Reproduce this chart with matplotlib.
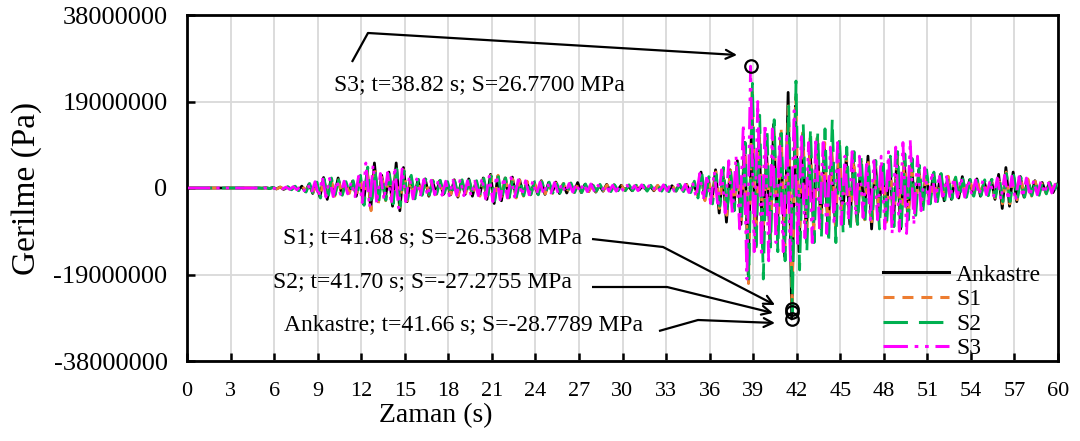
import matplotlib
matplotlib.use('Agg')
import matplotlib.pyplot as plt
import numpy as np

plt.rcParams['font.family'] = ['Liberation Serif', 'DejaVu Serif']

# ---------------- data (stress in MPa, sampled every dt seconds) ----------------
dt = 0.25
series_names = ['Ankastre', 'S1', 'S2', 'S3']
start_times = [0.16, 0.18, 0.20, 0.07]

ankastre_mpa = [
    0, 0, 0, 0, 0, 0, 0, 0, 0, 0,
    0, 0, 0, 0, 0, 0, 0, 0, 0, 0,
    -0.05, 0.05, -0.1, 0.1, -0.2, 0.2, -0.3, 0.2, -0.3, 0.3,
    -0.5, 0.4, -0.8, 0.9, -1.2, 1.0, -2.0, 2.3, -2.5, 1.8,
    -1.6, 2.2, -1.4, 1.2, -1.0, 1.5, -1.8, 2.5, -3.5, 4.0,
    -4.5, 5.5, -3.0, 2.8, -2.5, 3.5, -4.0, 5.5, -5.0, 4.5,
    -3.0, 2.5, -2.0, 1.8, -1.5, 2.0, -1.8, 1.5, -1.2, 1.6,
    -1.4, 1.2, -1.5, 1.8, -2.0, 1.6, -1.4, 2.0, -1.8, 1.5,
    -1.6, 2.2, -2.5, 3.0, -3.4, 2.6, -2.8, 2.2, -2.0, 2.4,
    -2.0, 1.8, -1.6, 1.4, -1.5, 1.2, -1.3, 1.6, -1.4, 1.2,
    -1.0, 1.3, -1.2, 0.9, -1.1, 1.0, -0.9, 1.2, -1.0, 0.8,
    -0.8, 0.7, -0.9, 0.6, -0.7, 0.8, -0.6, 0.7, -0.5, 0.6,
    -0.5, 0.4, -0.6, 0.5, -0.4, 0.6, -0.5, 0.4, -0.6, 0.5,
    -0.5, 0.6, -0.7, 0.5, -0.6, 0.7, -0.5, 0.8, -0.9, 1.0,
    -1.5, 3.5, -2.5, 2.0, -3.0, 4.0, -5.5, 3.5, -7.5, 4.0,
    -5.0, 6.0, -8.0, 10.0, -19.0, 17.0, -12.0, 11.0, -13.0, 9.0,
    -12.0, 14.0, -10.0, 12.0, -15.0, 21.0, -28.7789, 18.0, -14.0, 12.0,
    -11.0, 10.0, -9.0, 11.0, -8.0, 9.0, -10.0, 7.0, -8.0, 9.0,
    -7.0, 6.5, -8.0, 6.0, -7.5, 5.5, -6.0, 7.0, -9.0, 6.0,
    -6.0, 5.0, -7.0, 6.0, -8.0, 7.0, -9.0, 6.0, -7.0, 5.0,
    -5.0, 4.0, -4.5, 3.5, -3.0, 3.0, -2.5, 3.0, -2.8, 2.5,
    -2.5, 2.0, -2.2, 2.5, -2.0, 1.8, -1.6, 2.0, -1.8, 1.5,
    -1.5, 1.8, -2.5, 3.0, -4.5, 4.5, -4.0, 3.5, -3.0, 2.5,
    -2.0, 1.8, -1.5, 1.6, -1.4, 1.2, -1.0, 1.2, -1.0, 0.8,
]

s1_mpa = [
    0, 0, 0, 0, 0, 0, 0, 0, 0, 0,
    0, 0, 0, 0, 0, 0, 0, 0, 0, 0,
    -0.05, 0.05, -0.1, 0.1, -0.2, 0.2, -0.2, 0.3, -0.3, 0.3,
    -0.4, 0.5, -0.7, 0.8, -1.0, 1.2, -1.8, 2.0, -2.2, 2.0,
    -1.8, 1.8, -1.5, 1.3, -1.2, 1.4, -1.6, 2.2, -3.0, 3.5,
    -5.0, 4.5, -3.5, 3.0, -2.8, 3.2, -3.8, 4.5, -4.2, 4.0,
    -2.8, 2.2, -2.2, 1.6, -1.7, 1.8, -1.6, 1.7, -1.4, 1.5,
    -1.5, 1.3, -1.4, 1.6, -1.8, 1.7, -1.5, 1.8, -1.6, 1.4,
    -1.8, 2.0, -2.6, 2.8, -3.0, 2.8, -2.5, 2.4, -2.2, 2.0,
    -2.2, 1.7, -1.8, 1.5, -1.4, 1.3, -1.4, 1.5, -1.3, 1.1,
    -1.2, 1.1, -1.0, 1.0, -1.0, 1.1, -1.0, 1.0, -0.9, 0.9,
    -0.8, 0.8, -0.8, 0.7, -0.6, 0.7, -0.7, 0.6, -0.6, 0.5,
    -0.6, 0.5, -0.5, 0.6, -0.5, 0.5, -0.4, 0.5, -0.5, 0.6,
    -0.6, 0.5, -0.6, 0.6, -0.7, 0.6, -0.6, 0.7, -0.8, 1.2,
    -1.8, 3.0, -2.8, 2.5, -3.2, 3.8, -4.5, 4.0, -6.0, 4.5,
    -4.5, 5.5, -7.0, 9.0, -21.0, 22.0, -13.0, 12.0, -12.0, 10.0,
    -11.0, 13.0, -12.0, 13.0, -14.0, 19.0, -26.5368, 20.0, -13.0, 13.0,
    -12.0, 11.0, -10.0, 12.0, -9.0, 10.0, -11.0, 8.0, -9.0, 10.0,
    -8.0, 7.0, -7.0, 6.5, -8.0, 6.0, -7.0, 6.0, -8.0, 5.5,
    -6.5, 5.5, -7.5, 6.5, -8.5, 7.5, -8.0, 7.0, -6.5, 5.5,
    -4.5, 4.0, -4.0, 3.5, -3.2, 3.0, -2.8, 2.8, -2.5, 2.6,
    -2.2, 2.2, -2.0, 2.2, -1.8, 2.0, -1.7, 1.8, -1.6, 1.6,
    -1.6, 1.6, -2.2, 2.6, -3.5, 3.5, -3.5, 3.0, -2.6, 2.6,
    -2.2, 2.0, -1.8, 1.5, -1.5, 1.4, -1.2, 1.3, -1.0, 1.0,
]

s2_mpa = [
    0, 0, 0, 0, 0, 0, 0, 0, 0, 0,
    0, 0, 0, 0, 0, 0, 0, 0, 0, 0,
    -0.05, 0.05, -0.1, 0.1, -0.2, 0.3, -0.3, 0.3, -0.4, 0.4,
    -0.6, 0.6, -0.9, 1.0, -1.4, 1.3, -2.2, 2.0, -2.6, 2.2,
    -1.5, 1.8, -1.6, 1.4, -1.1, 1.6, -2.0, 2.8, -3.8, 4.6,
    -3.8, 4.0, -3.2, 2.6, -2.7, 3.0, -3.5, 4.2, -4.0, 3.8,
    -2.5, 2.8, -2.4, 1.9, -1.6, 1.9, -1.5, 1.6, -1.3, 1.7,
    -1.6, 1.4, -1.7, 1.5, -1.9, 1.8, -1.6, 1.7, -1.5, 1.6,
    -1.7, 2.1, -2.4, 2.7, -2.8, 2.5, -2.4, 2.2, -2.1, 2.2,
    -1.9, 1.6, -1.7, 1.6, -1.4, 1.4, -1.5, 1.4, -1.2, 1.3,
    -1.1, 1.2, -1.1, 1.0, -0.9, 1.1, -1.0, 0.9, -1.0, 0.9,
    -0.9, 0.8, -0.7, 0.8, -0.7, 0.6, -0.8, 0.7, -0.6, 0.7,
    -0.6, 0.7, -0.6, 0.6, -0.7, 0.6, -0.7, 0.6, -0.6, 0.7,
    -0.7, 0.6, -0.8, 0.7, -0.7, 0.8, -0.8, 0.9, -1.0, 1.5,
    -2.2, 3.8, -3.0, 2.5, -3.5, 3.0, -4.0, 4.5, -5.0, 3.5,
    -5.0, 6.0, -7.5, 10.0, -20.0, 23.0, -14.0, 16.0, -20.0, 13.0,
    -13.0, 15.0, -14.0, 12.0, -16.0, 18.0, -27.2755, 23.5, -18.0, 14.0,
    -14.0, 13.0, -12.0, 12.0, -11.0, 13.0, -12.0, 15.0, -12.0, 11.0,
    -10.0, 9.0, -9.0, 8.0, -8.0, 7.0, -8.0, 6.0, -7.0, 6.0,
    -9.0, 6.5, -8.0, 7.0, -8.5, 8.0, -9.0, 7.5, -7.0, 6.5,
    -6.0, 5.0, -5.0, 4.0, -3.5, 3.5, -3.0, 3.2, -2.8, 2.6,
    -2.4, 2.4, -2.2, 2.0, -2.0, 1.9, -1.8, 1.7, -1.7, 1.8,
    -1.7, 1.9, -2.0, 2.4, -3.0, 3.2, -3.0, 2.8, -2.5, 2.3,
    -2.0, 1.9, -1.7, 1.7, -1.6, 1.5, -1.3, 1.2, -1.1, 1.0,
]

s3_mpa = [
    0, 0, 0, 0, 0, 0, 0, 0, 0, 0,
    0, 0, 0, 0, 0, 0, 0, 0, 0, 0,
    -0.05, 0.05, -0.1, 0.1, -0.1, 0.2, -0.2, 0.2, -0.3, 0.3,
    -0.4, 0.4, -0.6, 0.8, -1.1, 1.4, -1.9, 2.4, -2.0, 2.1,
    -1.9, 1.6, -1.4, 1.5, -1.3, 1.3, -1.9, 2.6, -3.2, 5.5,
    -4.2, 5.0, -3.4, 3.2, -2.6, 3.4, -3.6, 4.6, -4.4, 4.2,
    -3.0, 2.6, -2.4, 2.0, -1.8, 1.9, -1.7, 1.7, -1.5, 1.8,
    -1.6, 1.5, -1.7, 1.7, -1.6, 1.9, -1.7, 1.6, -1.7, 1.5,
    -1.7, 2.2, -2.4, 2.6, -3.0, 2.7, -2.6, 2.3, -2.2, 2.3,
    -2.0, 1.8, -1.6, 1.6, -1.5, 1.5, -1.4, 1.3, -1.4, 1.2,
    -1.1, 1.2, -1.2, 1.0, -1.0, 1.0, -0.9, 1.0, -0.9, 1.0,
    -0.8, 0.9, -0.8, 0.6, -0.7, 0.7, -0.7, 0.6, -0.7, 0.6,
    -0.7, 0.6, -0.6, 0.5, -0.6, 0.7, -0.6, 0.5, -0.6, 0.6,
    -0.6, 0.7, -0.6, 0.8, -0.7, 0.7, -0.8, 0.8, -1.0, 1.3,
    -2.0, 3.2, -2.6, 2.8, -3.4, 3.6, -4.2, 4.0, -5.5, 6.0,
    -6.0, 7.0, -9.0, 14.0, -20.0, 26.77, -14.0, 19.0, -15.0, 14.0,
    -16.0, 13.0, -12.0, 11.0, -14.0, 12.0, -16.0, 17.0, -13.0, 12.0,
    -11.0, 10.0, -12.0, 11.0, -9.0, 10.0, -10.0, 9.0, -8.0, 10.0,
    -8.0, 7.0, -7.0, 8.0, -6.0, 7.0, -6.5, 6.0, -7.0, 6.0,
    -7.0, 7.0, -9.0, 8.0, -10.0, 9.0, -9.5, 10.0, -10.0, 10.5,
    -8.0, 7.0, -5.0, 4.5, -3.5, 3.5, -3.0, 3.0, -2.6, 2.5,
    -2.3, 2.2, -2.0, 2.3, -2.0, 1.8, -1.6, 1.8, -1.5, 1.6,
    -1.5, 1.6, -1.8, 2.2, -2.6, 2.8, -2.6, 2.6, -2.8, 2.5,
    -2.0, 2.2, -1.8, 1.6, -1.5, 1.4, -1.2, 1.4, -1.1, 1.0,
]

series_values = [ankastre_mpa, s1_mpa, s2_mpa, s3_mpa]

# annotated peaks
peak_names = ['S3', 'S1', 'S2', 'Ankastre']
peak_times = [38.82, 41.68, 41.70, 41.66]
peak_values_mpa = [26.7700, -26.5368, -27.2755, -28.7789]

x_ticks = list(range(0, 61, 3))
y_ticks = [-38000000, -19000000, 0, 19000000, 38000000]
y_tick_labels = ['-38000000', '-19000000', '0', '19000000', '38000000']

# ---------------- styles ----------------
colors = ['#000000', '#ED7D31', '#00B050', '#FF00FF']
dash_styles = ['-', (0, (3.6, 2.6)), (0, (8, 3.6)), (0, (8, 2.2, 1.2, 2.2, 1.2, 2.2))]
lw = 2.0

fig = plt.figure(figsize=(10.8, 4.41), dpi=100)
ax = fig.add_axes([187/1080, 80/441, 871/1080, 346/441])

for name, vals, t0, c, ls in zip(series_names, series_values, start_times, colors, dash_styles):
    v = np.asarray(vals, dtype=float) * 1e6
    t = t0 + dt * np.arange(len(v))
    ax.plot(t, v, color=c, linestyle=ls, lw=lw, label=name, zorder=3)

ax.set_xlim(0, 60)
ax.set_ylim(-38000000, 38000000)
ax.set_xticks(x_ticks)
ax.set_xticklabels([str(x) for x in x_ticks])
ax.set_yticks(y_ticks)
ax.set_yticklabels(y_tick_labels)
ax.grid(True, color='#d9d9d9', lw=1.3, zorder=0)
ax.set_axisbelow(True)
for sp in ax.spines.values():
    sp.set_linewidth(2.0)
ax.tick_params(axis='both', direction='in', length=6, width=1.8, colors='black')
ax.tick_params(axis='y', labelsize=19, pad=14)
ax.tick_params(axis='x', labelsize=16, pad=15)

ax.set_ylabel('Gerilme (Pa)', fontsize=24)
ax.yaxis.set_label_coords(-0.166, 0.5)
ax.text(0.286, -0.158, 'Zaman (s)', transform=ax.transAxes, fontsize=20,
        ha='center', va='center')

# peak markers
for pt, pv in zip(peak_times, peak_values_mpa):
    ax.plot([pt], [pv * 1e6], 'o', ms=9, mfc='none', mec='black', mew=1.6, zorder=5)

# annotation labels and leaders (axes fraction positions)
text_pos = [(0.336, 0.800), (0.282, 0.356), (0.270, 0.228), (0.318, 0.104)]
leaders = [
    [(0.1894, 0.8642), (0.2078, 0.9480), (0.6315, 0.8844)],
    [(0.4650, 0.3526), (0.5465, 0.3295), (0.6751, 0.1618)],
    [(0.4650, 0.2139), (0.5511, 0.2139), (0.6728, 0.1387)],
    [(0.5419, 0.0867), (0.5867, 0.1185), (0.6751, 0.1098)],
]
for name, pt, pv, tp, ld in zip(peak_names, peak_times, peak_values_mpa, text_pos, leaders):
    ax.text(tp[0], tp[1], f'{name}; t={pt:.2f} s; S={pv:.4f} MPa', transform=ax.transAxes,
            fontsize=17, ha='center', va='center', zorder=6)
    ax.plot([ld[0][0], ld[1][0]], [ld[0][1], ld[1][1]], color='black', lw=1.6,
            transform=ax.transAxes, zorder=6, solid_capstyle='butt')
    ax.annotate('', xy=ld[2], xytext=ld[1], xycoords='axes fraction', textcoords='axes fraction',
                arrowprops=dict(arrowstyle='->', lw=1.6, color='black', mutation_scale=16,
                                shrinkA=0, shrinkB=0), zorder=6)

leg = ax.legend(loc='upper left', bbox_to_anchor=(0.7990, 0.2800), frameon=False,
                fontsize=17, handlelength=2.8, handletextpad=0.3, labelspacing=0.13,
                borderpad=0, borderaxespad=0)
for line in leg.get_lines():
    line.set_linewidth(2.2)

fig.savefig('out.png', dpi=100)
